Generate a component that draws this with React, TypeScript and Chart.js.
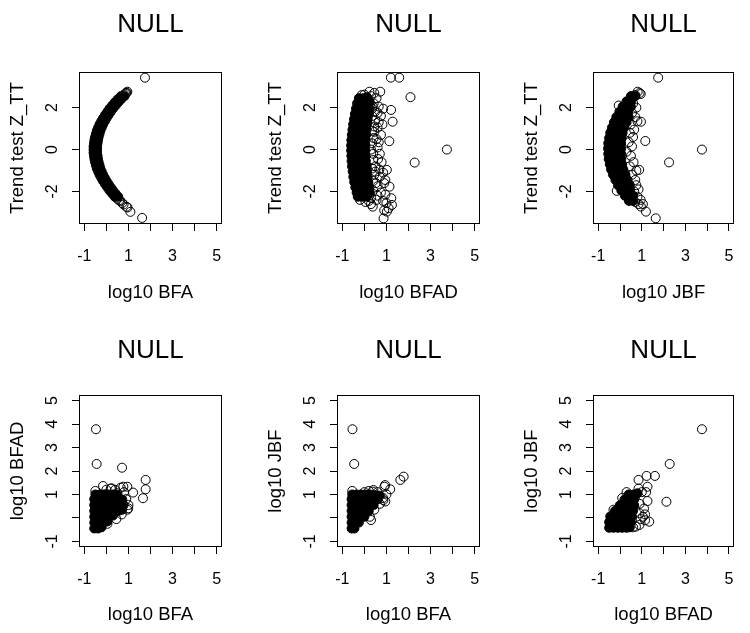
import React, { useEffect, useRef } from 'react';
import { Chart, registerables } from 'chart.js';

Chart.register(...registerables);

const FONT = '"Liberation Sans", Arial, Helvetica, sans-serif';

// ---- axis ticks ----
const logTickValues = [-1, 0, 1, 2, 3, 4, 5];
const xTickLabels = ['-1', '', '1', '', '3', '', '5'];
const logYTickLabels = ['-1', '', '1', '2', '3', '4', '5'];
const zTickValues = [-2, 0, 2];
const zTickLabels = ['-2', '0', '2'];
const logRange = [-1.24, 5.24];
const zRange = [-3.55, 3.7];

// ---- titles ----
const panelTitles = ['NULL', 'NULL', 'NULL', 'NULL', 'NULL', 'NULL'];
const xTitles = ['log10 BFA', 'log10 BFAD', 'log10 JBF', 'log10 BFA', 'log10 BFA', 'log10 BFAD'];
const yTitles = ['Trend test Z_TT', 'Trend test Z_TT', 'Trend test Z_TT', 'log10 BFAD', 'log10 JBF', 'log10 JBF'];

type P = [number, number];

// ---- panel 1: log10 BFA vs Z_TT ----
const bfaZCore: P[] = [
  [0.66, 2.55], [0.82, 2.55], [0.51, 2.4], [0.67, 2.4], [0.38, 2.25], [0.54, 2.25], [0.26, 2.1], [0.42, 2.1],
  [0.14, 1.95], [0.3, 1.95], [0.04, 1.8], [0.2, 1.8], [-0.06, 1.65], [0.1, 1.65], [-0.15, 1.5], [0.01, 1.5],
  [-0.23, 1.35], [-0.07, 1.35], [-0.31, 1.2], [-0.15, 1.2], [-0.37, 1.05], [-0.21, 1.05], [-0.43, 0.9], [-0.27, 0.9],
  [-0.47, 0.75], [-0.31, 0.75], [-0.51, 0.6], [-0.35, 0.6], [-0.54, 0.45], [-0.38, 0.45], [-0.56, 0.3], [-0.4, 0.3],
  [-0.58, 0.15], [-0.42, 0.15], [-0.58, 0], [-0.42, 0], [-0.58, -0.15], [-0.42, -0.15], [-0.56, -0.3], [-0.4, -0.3],
  [-0.54, -0.45], [-0.38, -0.45], [-0.51, -0.6], [-0.35, -0.6], [-0.47, -0.75], [-0.31, -0.75], [-0.43, -0.9], [-0.27, -0.9],
  [-0.37, -1.05], [-0.21, -1.05], [-0.31, -1.2], [-0.15, -1.2], [-0.23, -1.35], [-0.07, -1.35], [-0.15, -1.5], [0.01, -1.5],
  [-0.06, -1.65], [0.1, -1.65], [0.04, -1.8], [0.2, -1.8], [0.14, -1.95], [0.3, -1.95], [0.26, -2.1], [0.42, -2.1],
  [0.38, -2.25], [0.54, -2.25],
];
const bfaZOpen: P[] = [
  [0.8, 2.62], [0.86, 2.66], [0.89, 2.7], [0.92, 2.72], [0.95, 2.76], [1.75, 3.43],
  [0.5, -2.35], [0.58, -2.42], [0.63, -2.45], [0.72, -2.55], [0.78, -2.62], [0.91, -2.73], [0.96, -2.76],
  [1.09, -2.97], [1.62, -3.26],
];

// ---- panel 2: log10 BFAD vs Z_TT ----
const bfadZCore: P[] = [
  [-0.25, 2.45], [-0.05, 2.45], [0.12, 2.5],
  [-0.33, 2.2], [-0.12, 2.2], [0.08, 2.2], [0.25, 2.25],
  [-0.38, 1.95], [-0.17, 1.95], [0.03, 1.95], [0.22, 1.95],
  [-0.43, 1.7], [-0.22, 1.7], [0.0, 1.7], [0.2, 1.7],
  [-0.47, 1.45], [-0.26, 1.45], [-0.05, 1.45], [0.15, 1.45],
  [-0.51, 1.2], [-0.3, 1.2], [-0.09, 1.2], [0.12, 1.2],
  [-0.54, 0.95], [-0.33, 0.95], [-0.12, 0.95], [0.1, 0.95],
  [-0.57, 0.7], [-0.36, 0.7], [-0.15, 0.7], [0.08, 0.7],
  [-0.59, 0.45], [-0.38, 0.45], [-0.17, 0.45], [0.06, 0.45],
  [-0.6, 0.2], [-0.39, 0.2], [-0.18, 0.2], [0.05, 0.2],
  [-0.6, -0.05], [-0.39, -0.05], [-0.18, -0.05], [0.05, -0.05],
  [-0.59, -0.3], [-0.38, -0.3], [-0.17, -0.3], [0.06, -0.3],
  [-0.58, -0.55], [-0.37, -0.55], [-0.16, -0.55], [0.07, -0.55],
  [-0.56, -0.8], [-0.35, -0.8], [-0.14, -0.8], [0.1, -0.8],
  [-0.53, -1.05], [-0.32, -1.05], [-0.11, -1.05], [0.12, -1.05],
  [-0.5, -1.3], [-0.29, -1.3], [-0.08, -1.3], [0.15, -1.3],
  [-0.46, -1.55], [-0.25, -1.55], [-0.04, -1.55], [0.18, -1.55],
  [-0.41, -1.8], [-0.2, -1.8], [0.01, -1.8], [0.22, -1.8],
  [-0.35, -2.05], [-0.14, -2.05], [0.07, -2.05], [0.25, -2.05],
  [-0.3, -2.25], [-0.1, -2.25], [0.1, -2.25],
];
const bfadZOpen: P[] = [
  [1.2, 3.43], [1.58, 3.43], [2.09, 2.5], [2.28, -0.62], [3.74, 0.0], [1.13, 0.4], [1.28, 1.33], [1.21, 1.89],
  [0.87, -3.28], [1.02, -2.96], [1.25, -2.64], [1.22, -2.32], [1.14, -1.77], [0.95, -1.45], [1.02, -0.97],
  [0.38, -2.72], [0.3, -2.6], [0.55, -2.4], [-0.12, 2.6], [-0.2, -2.4], [0.05, -2.5],
  [0.0, 2.62], [0.23, 2.76], [0.45, 2.7], [0.72, 2.76], [0.3, 2.55], [0.55, 2.45], [0.2, 2.35], [0.42, 2.2],
  [0.65, 2.05], [0.85, 1.95], [0.35, 1.95], [0.6, 1.75], [0.75, 1.6], [0.5, 1.4], [0.82, 1.2], [0.6, 1.05],
  [0.45, 0.85], [0.75, 0.7], [0.55, 0.5], [0.35, 0.3], [0.6, 0.1], [0.4, -0.2], [0.62, -0.45], [0.78, -0.6],
  [0.5, -0.8], [0.85, -1.1], [0.7, -1.3], [0.45, -1.2], [0.9, -1.6], [0.6, -1.75], [0.4, -1.95], [0.75, -2.05],
  [0.95, -2.15], [0.3, -2.3], [0.2, -2.45], [0.6, -2.2], [0.85, -2.45], [1.0, -2.55], [1.1, -2.8], [0.9, -2.9],
  [0.35, 1.6], [0.35, 0.9], [0.3, 0.0], [0.35, -0.9], [0.4, -1.5], [0.38, 2.05], [0.45, 1.1], [0.4, -0.5],
  [0.5, -1.05], [0.42, 0.55], [0.48, 1.8], [0.52, -1.6], [0.65, 0.35], [0.7, -0.2], [0.65, 1.3], [0.68, -0.95],
];

// ---- panel 3: log10 JBF vs Z_TT ----
const jbfZCore: P[] = [
  [0.5, 2.55], [0.7, 2.55],
  [0.3, 2.3], [0.5, 2.3],
  [0.12, 2.05], [0.32, 2.05], [0.5, 2.05],
  [-0.03, 1.8], [0.17, 1.8], [0.37, 1.8],
  [-0.17, 1.55], [0.03, 1.55], [0.23, 1.55], [0.4, 1.55],
  [-0.28, 1.3], [-0.08, 1.3], [0.12, 1.3], [0.3, 1.3],
  [-0.37, 1.05], [-0.17, 1.05], [0.03, 1.05], [0.2, 1.05],
  [-0.45, 0.8], [-0.25, 0.8], [-0.05, 0.8], [0.12, 0.8],
  [-0.5, 0.55], [-0.3, 0.55], [-0.1, 0.55], [0.08, 0.55],
  [-0.54, 0.3], [-0.34, 0.3], [-0.14, 0.3], [0.05, 0.3],
  [-0.55, 0.05], [-0.35, 0.05], [-0.15, 0.05], [0.05, 0.05],
  [-0.54, -0.2], [-0.34, -0.2], [-0.14, -0.2], [0.05, -0.2],
  [-0.52, -0.45], [-0.32, -0.45], [-0.12, -0.45], [0.06, -0.45],
  [-0.47, -0.7], [-0.27, -0.7], [-0.07, -0.7], [0.1, -0.7],
  [-0.41, -0.95], [-0.21, -0.95], [-0.01, -0.95], [0.15, -0.95],
  [-0.32, -1.2], [-0.12, -1.2], [0.08, -1.2], [0.25, -1.2],
  [-0.21, -1.45], [-0.01, -1.45], [0.19, -1.45], [0.35, -1.45],
  [-0.09, -1.7], [0.11, -1.7], [0.3, -1.7], [0.45, -1.7],
  [0.06, -1.95], [0.26, -1.95], [0.45, -1.95],
  [0.22, -2.2], [0.42, -2.2], [0.6, -2.2],
  [0.41, -2.45], [0.6, -2.45],
];
const jbfZOpen: P[] = [
  [1.75, 3.43], [2.25, -0.61], [3.76, 0.0], [1.16, 0.41], [1.64, -3.28], [1.19, -2.96], [0.96, -2.72],
  [-0.15, -1.97], [-0.06, 2.1], [0.81, 2.76], [0.9, 2.7], [0.95, 2.65], [0.7, 2.6], [0.96, 1.33], [0.88, -0.97],
  [0.6, 2.2], [0.75, 2.0], [0.55, 1.75], [0.7, 1.55], [0.8, 1.35], [0.5, 1.2], [0.65, 0.95], [0.45, 0.8],
  [0.6, 0.6], [0.4, 0.35], [0.55, 0.15], [0.3, -0.1], [0.5, -0.3], [0.62, -0.6], [0.45, -0.8], [0.75, -1.0],
  [0.55, -1.2], [0.7, -1.45], [0.75, -1.7], [0.85, -1.9], [0.65, -2.0], [0.8, -2.25], [0.95, -2.4], [0.7, -2.5],
  [1.05, -2.6], [0.85, -2.6],
];

// ---- panel 4: log10 BFA vs log10 BFAD ----
const bfaBfadCore: P[] = [
  [-0.55, -0.45], [-0.38, -0.45], [-0.22, -0.4],
  [-0.55, -0.2], [-0.33, -0.2], [-0.12, -0.2], [0.05, -0.15],
  [-0.55, 0.05], [-0.33, 0.05], [-0.11, 0.05], [0.11, 0.05], [0.3, 0.1],
  [-0.55, 0.3], [-0.33, 0.3], [-0.11, 0.3], [0.11, 0.3], [0.33, 0.3], [0.55, 0.3], [0.72, 0.35],
  [-0.55, 0.55], [-0.33, 0.55], [-0.11, 0.55], [0.11, 0.55], [0.33, 0.55], [0.55, 0.55], [0.78, 0.55],
  [-0.55, 0.8], [-0.33, 0.8], [-0.11, 0.8], [0.11, 0.8], [0.33, 0.8], [0.55, 0.8], [0.72, 0.78],
  [-0.5, 1.0], [-0.3, 1.0], [-0.1, 1.0], [0.1, 1.0], [0.3, 1.0], [0.5, 0.98],
];
const bfaBfadOpen: P[] = [
  [-0.47, 3.78], [-0.44, 2.3], [0.71, 2.14], [1.78, 1.62], [1.78, 1.22], [1.66, 0.84], [1.21, 1.08], [0.95, 1.33],
  [0.65, 1.29], [-0.15, 1.36], [-0.5, 1.15], [0.2, 1.25], [0.4, 1.2], [0.8, 1.1], [0.9, 0.8], [1.0, 0.55],
  [0.95, 0.35], [0.7, 0.15], [0.45, -0.05], [0.05, -0.25], [-0.3, -0.4], [0.0, 1.2], [0.5, 1.05], [0.99, 0.41],
  [0.77, 1.33], [0.24, 1.26],
];

// ---- panel 5: log10 BFA vs log10 JBF ----
const bfaJbfCore: P[] = [
  [-0.58, -0.45], [-0.45, -0.45],
  [-0.58, -0.2], [-0.38, -0.2], [-0.25, -0.2],
  [-0.58, 0.05], [-0.38, 0.05], [-0.18, 0.05], [0.0, 0.05],
  [-0.58, 0.3], [-0.38, 0.3], [-0.18, 0.3], [0.02, 0.3], [0.2, 0.3],
  [-0.58, 0.55], [-0.38, 0.55], [-0.18, 0.55], [0.02, 0.55], [0.22, 0.55], [0.42, 0.55],
  [-0.58, 0.8], [-0.38, 0.8], [-0.18, 0.8], [0.02, 0.8], [0.22, 0.8], [0.42, 0.8], [0.62, 0.8],
  [-0.55, 1.0], [-0.35, 1.0], [-0.15, 1.0], [0.05, 1.0], [0.25, 1.0], [0.45, 0.98], [0.7, 0.95],
];
const bfaJbfOpen: P[] = [
  [-0.54, 3.78], [-0.46, 2.3], [1.63, 1.62], [1.78, 1.76], [1.17, 1.22], [0.91, 1.33], [0.38, 1.12], [-0.55, 1.15],
  [0.3, -0.09], [0.25, 0.05], [0.7, 0.6], [0.85, 0.85], [1.0, 1.0], [0.6, 1.1], [0.2, 1.15], [0.0, 1.1],
  [0.45, 0.35], [0.95, 0.7], [0.41, 1.19], [0.94, 1.4], [0.86, 0.76], [0.33, 0.91],
];

// ---- panel 6: log10 BFAD vs log10 JBF ----
const bfadJbfCore: P[] = [
  [-0.5, -0.42], [-0.3, -0.42], [-0.1, -0.42], [0.1, -0.42], [0.3, -0.42], [0.45, -0.4],
  [-0.5, -0.18], [-0.3, -0.18], [-0.1, -0.18], [0.1, -0.18], [0.3, -0.18], [0.5, -0.18],
  [-0.45, 0.06], [-0.25, 0.06], [-0.05, 0.06], [0.15, 0.06], [0.35, 0.06], [0.55, 0.06],
  [-0.23, 0.3], [-0.03, 0.3], [0.17, 0.3], [0.37, 0.3], [0.6, 0.3],
  [-0.01, 0.54], [0.19, 0.54], [0.39, 0.54], [0.65, 0.54],
  [0.2, 0.78], [0.4, 0.78], [0.65, 0.78],
  [0.4, 1.0], [0.62, 1.0], [0.8, 1.05],
];
const bfadJbfOpen: P[] = [
  [3.76, 3.78], [2.28, 2.3], [0.85, 1.62], [1.22, 1.79], [1.6, 1.79], [1.26, 1.33], [1.26, 0.72], [2.13, 0.69],
  [1.34, -0.16], [0.89, 0.2], [0.89, -0.3], [0.73, -0.37], [1.0, 1.1], [0.85, 1.25], [0.7, 0.9], [0.9, 0.6],
  [1.1, 0.4], [1.05, 0.05], [0.6, -0.4], [1.15, -0.1], [0.3, 1.1], [0.1, 0.85], [-0.3, 0.35], [1.15, 0.15],
  [0.95, -0.05], [1.2, 1.1],
];

const coreSets = [bfaZCore, bfadZCore, jbfZCore, bfaBfadCore, bfaJbfCore, bfadJbfCore];
const openSets = [bfaZOpen, bfadZOpen, jbfZOpen, bfaBfadOpen, bfaJbfOpen, bfadJbfOpen];

// ---- layout (canvas placement) ----
const BOX_L = 79;
const BOX_T = 72;
const BOX_R = 222;
const BOX_B = 224;
const canvasLefts = [0, 258, 514, 0, 258, 514];
const canvasTops = [0, 0, 0, 323, 323, 323];
const canvasWidths = [250, 250, 236, 250, 250, 236];
const canvasHeights = [316, 316, 316, 310, 310, 310];
const titleCenters = [25, 25, 25, 28, 28, 28];
const xTitleCenters = [293, 293, 293, 292, 292, 292];

const boxPlugin = {
  id: 'rbox',
  afterDraw(chart: any) {
    const { ctx, chartArea: a } = chart;
    ctx.save();
    ctx.strokeStyle = '#000';
    ctx.lineWidth = 1;
    const l = Math.round(a.left) + 0.5;
    const t = Math.round(a.top) + 0.5;
    const r = Math.round(a.right) - 0.5;
    const b = Math.round(a.bottom) - 0.5;
    ctx.strokeRect(l, t, r - l, b - t);
    ctx.restore();
  },
};

function Panel({ idx }: { idx: number }) {
  const ref = useRef<HTMLCanvasElement>(null);
  useEffect(() => {
    const W = canvasWidths[idx];
    const H = canvasHeights[idx];
    const isTop = idx < 3;
    const yTicks = isTop ? zTickValues : logTickValues;
    const yLabels = isTop ? zTickLabels : logYTickLabels;
    const yR = isTop ? zRange : logRange;
    const titleSize = 26;
    const titleLH = titleSize * 1.2;
    const tc = titleCenters[idx];
    const axisTitleSize = 18.5;
    const axisLH = axisTitleSize * 1.2;
    const tickSize = 16;
    const toPts = (arr: P[]) => arr.map(([x, y]) => ({ x, y }));
    const chart = new Chart(ref.current as HTMLCanvasElement, {
      type: 'scatter',
      data: {
        datasets: [
          {
            data: toPts(coreSets[idx]),
            pointRadius: 4.5,
            pointHoverRadius: 4.5,
            borderWidth: 1,
            borderColor: '#000',
            backgroundColor: '#000',
          },
          {
            data: toPts(openSets[idx]),
            pointRadius: 4.5,
            pointHoverRadius: 4.5,
            borderWidth: 1,
            borderColor: '#000',
            backgroundColor: 'rgba(0,0,0,0)',
          },
        ],
      },
      options: {
        responsive: false,
        animation: false,
        events: [],
        layout: { padding: { left: 0, top: 0, right: W - BOX_R, bottom: 0 } },
        plugins: {
          legend: { display: false },
          tooltip: { enabled: false },
          title: {
            display: true,
            fullSize: false,
            align: 'center',
            text: panelTitles[idx],
            color: '#000',
            font: { family: FONT, size: titleSize, weight: 'normal', lineHeight: 1.2 },
            padding: { top: tc - titleLH / 2, bottom: BOX_T - (tc + titleLH / 2) },
          },
        },
        scales: {
          x: {
            type: 'linear',
            position: 'bottom',
            min: logRange[0],
            max: logRange[1],
            afterFit: (s: any) => {
              s.height = H - BOX_B;
            },
            afterBuildTicks: (s: any) => {
              s.ticks = logTickValues.map((v) => ({ value: v }));
            },
            ticks: {
              autoSkip: false,
              minRotation: 0,
              maxRotation: 0,
              color: '#000',
              padding: 16,
              font: { family: FONT, size: tickSize, lineHeight: 1.2 },
              callback: (v: any) => xTickLabels[logTickValues.indexOf(Number(v))] ?? '',
            },
            grid: { drawOnChartArea: false, drawTicks: true, tickLength: 7, color: '#000', lineWidth: 1 },
            border: { display: false },
            title: {
              display: true,
              text: xTitles[idx],
              color: '#000',
              font: { family: FONT, size: axisTitleSize, lineHeight: 1.2 },
              padding: { top: 0, bottom: H - xTitleCenters[idx] - axisLH / 2 },
            },
          },
          y: {
            type: 'linear',
            position: 'left',
            min: yR[0],
            max: yR[1],
            afterFit: (s: any) => {
              s.width = BOX_L;
            },
            afterBuildTicks: (s: any) => {
              s.ticks = yTicks.map((v) => ({ value: v }));
            },
            ticks: {
              autoSkip: false,
              minRotation: 90,
              maxRotation: 90,
              crossAlign: 'center',
              color: '#000',
              padding: 12,
              font: { family: FONT, size: tickSize, lineHeight: 1.2 },
              callback: (v: any) => yLabels[yTicks.indexOf(Number(v))] ?? '',
            },
            grid: { drawOnChartArea: false, drawTicks: true, tickLength: 7, color: '#000', lineWidth: 1 },
            border: { display: false },
            title: {
              display: true,
              text: yTitles[idx],
              color: '#000',
              font: { family: FONT, size: axisTitleSize, lineHeight: 1.2 },
              padding: { top: 18 - axisLH / 2, bottom: 0 },
            },
          },
        },
      } as any,
      plugins: [boxPlugin],
    });
    return () => chart.destroy();
  }, [idx]);
  return (
    <canvas
      ref={ref}
      width={canvasWidths[idx]}
      height={canvasHeights[idx]}
      style={{
        position: 'absolute',
        left: canvasLefts[idx],
        top: canvasTops[idx],
        width: canvasWidths[idx],
        height: canvasHeights[idx],
      }}
    />
  );
}

export default function App() {
  return (
    <div
      style={{
        position: 'fixed',
        left: 0,
        top: 0,
        width: 750,
        height: 633,
        overflow: 'hidden',
        background: '#fff',
      }}
    >
      {[0, 1, 2, 3, 4, 5].map((i) => (
        <Panel key={i} idx={i} />
      ))}
    </div>
  );
}
